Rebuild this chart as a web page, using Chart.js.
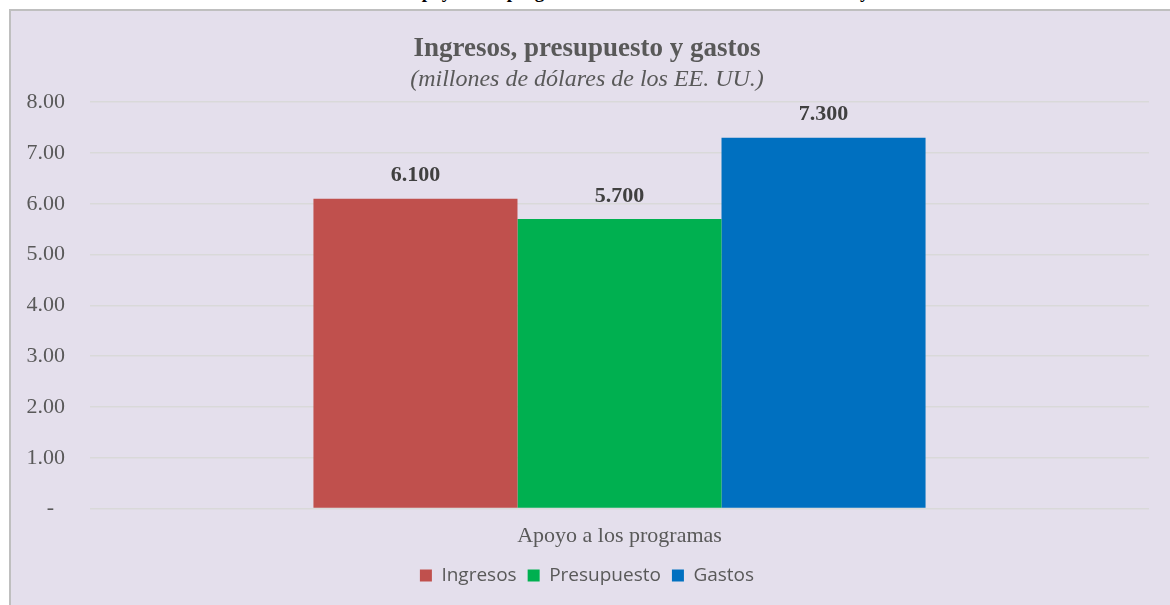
<!DOCTYPE html>
<html>
<head>
<meta charset="utf-8">
<script src="https://cdn.jsdelivr.net/npm/chart.js@4"></script>
<style>
  body { margin: 0; background: #fff; width: 1170px; height: 605px; overflow: hidden; position: relative; }
  #cap { position: absolute; top: -19px; left: 0; width: 1170px; text-align: center;
         font: bold 19px "Liberation Serif", serif; color: #000; white-space: nowrap; }
  #box { position: absolute; top: 9px; left: 9px; width: 1159px; height: 594px;
         background: #e4dfec; border-left: 2px solid #bfbfbf; border-top: 2px solid #bfbfbf; }
</style>
</head>
<body>
<div id="cap">Cuadro 5. Resumen de los recursos de apoyo a los programas de la Oficina del Fondo en 2021 y su evolución en el bienio</div>
<div id="box"><canvas id="chart" width="1159" height="594"></canvas></div>
<script>
// values (millones de USD)
var categories = ['Apoyo a los programas'];
var ingresos = [6.1];
var presupuesto = [5.7];
var gastos = [7.3];
var seriesNames = ['Ingresos', 'Presupuesto', 'Gastos'];
var colors = ['#c0504d', '#00b050', '#0070c0'];

// labels over the bars
var barLabels = {
  id: 'barLabels',
  afterDatasetsDraw: function(chart) {
    var ctx = chart.ctx;
    ctx.save();
    ctx.font = 'bold 22px "Liberation Serif", serif';
    ctx.fillStyle = '#404040';
    ctx.textAlign = 'center';
    ctx.textBaseline = 'middle';
    chart.data.datasets.forEach(function(ds, i) {
      var meta = chart.getDatasetMeta(i);
      meta.data.forEach(function(bar, j) {
        ctx.fillText(ds.data[j].toFixed(3), bar.x, bar.y - 23);
      });
    });
    ctx.restore();
  }
};

var ctx = document.getElementById('chart').getContext('2d');
var ans = new Chart(ctx, {
  type: 'bar',
  data: {
    labels: categories,
    datasets: [
      { label: seriesNames[0], data: ingresos, backgroundColor: colors[0] },
      { label: seriesNames[1], data: presupuesto, backgroundColor: colors[1] },
      { label: seriesNames[2], data: gastos, backgroundColor: colors[2] }
    ]
  },
  options: {
    responsive: false,
    animation: false,
    categoryPercentage: 0.578,
    barPercentage: 1,
    layout: { padding: { left: 14, right: 21, top: 0, bottom: 10 } },
    scales: {
      x: {
        grid: { display: false },
        border: { display: false },
        afterFit: function(s) { s.paddingLeft = 0; s.paddingRight = 0; },
        ticks: { color: '#595959', font: { family: '"Liberation Serif", serif', size: 22 }, padding: 6 }
      },
      y: {
        min: 0, max: 8,
        grid: { color: '#d9d9d9', lineWidth: 1.5, drawTicks: false },
        border: { display: false },
        afterFit: function(s) { s.width = 65; },
        ticks: {
          stepSize: 1,
          padding: 25,
          color: '#595959',
          font: { family: '"Liberation Serif", serif', size: 22 },
          callback: function(v) { return v === 0 ? '-  ' : v.toFixed(2); }
        }
      }
    },
    plugins: {
      title: {
        display: true,
        text: 'Ingresos, presupuesto y gastos',
        color: '#595959',
        font: { family: '"Liberation Serif", serif', size: 27, weight: 'bold' },
        padding: { top: 22, bottom: 0 }
      },
      subtitle: {
        display: true,
        text: '(millones de dólares de los EE. UU.)',
        color: '#595959',
        font: { family: '"Liberation Serif", serif', size: 24, style: 'italic' },
        padding: { top: 0, bottom: 8 }
      },
      legend: {
        position: 'bottom',
        labels: {
          boxWidth: 12, boxHeight: 12, padding: 11,
          color: '#595959',
          font: { family: '"Open Sans", sans-serif', size: 19 }
        }
      },
      tooltip: { enabled: false }
    }
  },
  plugins: [barLabels]
});
</script>
</body>
</html>
